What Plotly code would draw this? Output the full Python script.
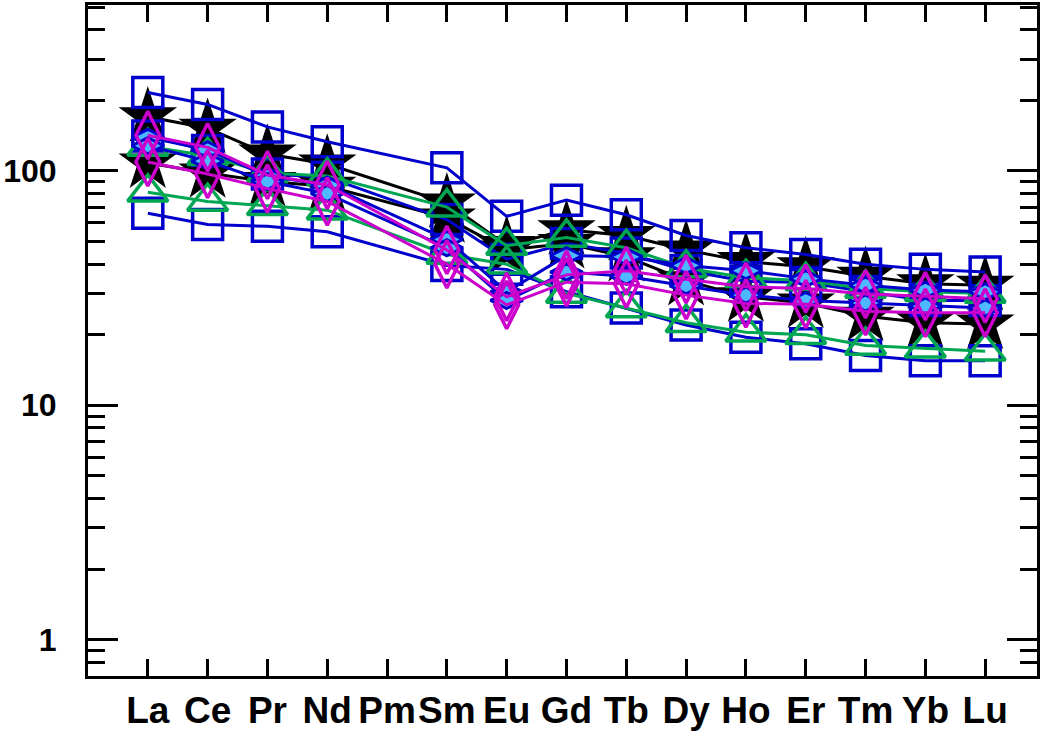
import plotly.graph_objects as go
import math

elements = ["La", "Ce", "Pr", "Nd", "Pm", "Sm", "Eu", "Gd", "Tb", "Dy", "Ho", "Er", "Tm", "Yb", "Lu"]

# chondrite-normalised REE values (Pm not analysed)
stars_a = [170, 152, 118, 107, None, 73, 48, 56, 53, 46, 41, 39, 35.5, 33, 32.5]
stars_b = [108, 98, 90, 86, None, 63, 46, 49, 43, 34, 29, 27.3, 24, 22.5, 22.2]
squares_a = [216, 192, 154, 133, None, 103, 64, 75, 65, 53, 47, 44, 40, 38, 37]
squares_b = [141, 122, 97, 94, None, 62, 42, 49, 44.6, 37.6, 33.8, 33.4, 30.6, 28, 28]
squares_c = [66, 59, 58, 55, None, 39.5, 38, 30.5, 26, 22, 19.5, 18.3, 16.3, 15.5, 15.5]
triangles_a = [127, 116, 98, 95, None, 70, 48, 52, 47, 38.5, 35, 34, 31.5, 30.5, 30]
triangles_b = [81, 74, 71, 68, None, 44, 40, 30, 26, 22.5, 20.5, 20, 18, 17.5, 17]
bdiam_a = [139, 123, 95, 87, None, 51, 30.5, 43.5, 43, 39.5, 37.5, 34.7, 32.5, 31, 30.5]
bdiam_b = [128, 110, 90, 80, None, 47, 28, 37, 35.5, 32.3, 29.5, 28, 27.3, 26.5, 26]
mdiam_a = [142, 126, 96, 87, None, 46, 29, 36, 37.5, 34.5, 32, 31.5, 29.8, 29.2, 28.5]
mdiam_b = [109, 97, 84, 74, None, 40, 26.8, 33.5, 33, 29.5, 27.2, 27, 25.2, 24.8, 24.8]

BLUE = "#0000CC"
GREEN = "#00A651"
MAG = "#CC00CC"
LBLUE = "#4DB8FF"

xidx = list(range(len(elements)))

fig = go.Figure()

def add(vals, color, symbol, size, fill=None, mlw=3.5):
    fig.add_trace(go.Scatter(
        x=xidx, y=vals, mode="lines+markers", connectgaps=True,
        line=dict(color=color, width=3),
        marker=dict(symbol=symbol, size=size,
                    color=fill if fill else color,
                    line=dict(color=color, width=mlw)),
        showlegend=False, cliponaxis=False))

for v in (stars_a, stars_b):
    add(v, "black", "star", 44, fill="black", mlw=0)
for v in (squares_a, squares_b, squares_c):
    add(v, BLUE, "square-open", 30)
for v in (triangles_a, triangles_b):
    add(v, GREEN, "triangle-up-open", 35)
for v in (bdiam_a, bdiam_b):
    add(v, BLUE, "diamond-wide", 23, fill=LBLUE, mlw=3)
for v in (mdiam_a, mdiam_b):
    add(v, MAG, "diamond-tall-open", 34)

fig.update_layout(
    width=1040, height=731,
    margin=dict(l=88, r=0, t=5, b=51),
    paper_bgcolor="white", plot_bgcolor="white",
    font=dict(family="Liberation Sans, Arial, sans-serif", color="black"),
)

fig.update_xaxes(
    range=[-1, -1 + 952 / 60],
    tickmode="array", tickvals=xidx, ticktext=[f"<b>{e}</b>" for e in elements],
    ticks="inside", ticklen=17, tickwidth=2.5, tickcolor="black",
    showline=True, linewidth=3, linecolor="black", mirror="ticks",
    showgrid=False, zeroline=False,
    tickfont=dict(family="Liberation Sans Narrow, Arial Narrow, Liberation Sans, sans-serif", size=37),
)

fig.update_yaxes(
    type="log", range=[math.log10(0.7), math.log10(510)],
    dtick=1, tick0=0,
    ticks="inside", ticklen=30, tickwidth=2.5, tickcolor="black",
    minor=dict(ticks="inside", ticklen=17, tickwidth=2.5, tickcolor="black", dtick="D1", showgrid=False),
    showline=True, linewidth=3, linecolor="black", mirror="ticks",
    showgrid=False, zeroline=False,
    tickfont=dict(family="Liberation Sans, Arial, sans-serif", size=32, weight="bold"),
    ticklabelstandoff=22,
)

fig.write_html("out.html")
